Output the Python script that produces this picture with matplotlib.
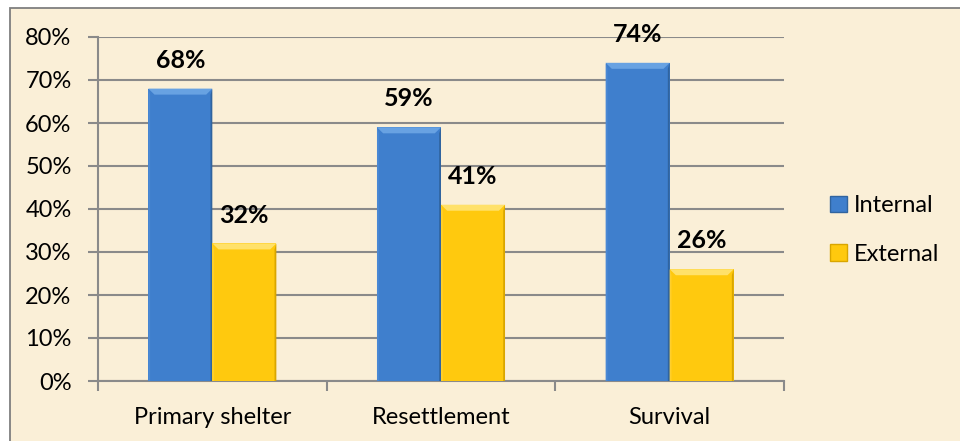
import matplotlib
matplotlib.use("Agg")
import matplotlib.pyplot as plt
from matplotlib.patches import Polygon, Rectangle, Patch
from matplotlib.ticker import FuncFormatter

categories = ["Primary shelter", "Resettlement", "Survival"]
internal = [0.68, 0.59, 0.74]
external = [0.32, 0.41, 0.26]
series_names = ["Internal", "External"]

PAPER = "#faefd7"
GRID = "#8a8a8a"
# main, light top, light left, dark right/bottom
BLUE = ("#3f7fcd", "#68a2e2", "#4a88d4", "#30649f")
GOLD = ("#ffc90e", "#ffe16a", "#ffcf2c", "#d9a600")

plt.rcParams["font.family"] = ["Lato", "DejaVu Sans"]

fig = plt.figure(figsize=(9.6, 4.41), dpi=100, facecolor="white")
fig.patches.append(Rectangle((10 / 960, -0.1), 1.2, 1.1 - 8 / 441,
                             transform=fig.transFigure, facecolor=PAPER,
                             edgecolor="#7f7f7f", linewidth=1.3, zorder=-5))

ax = fig.add_axes([98 / 960, 1 - 381 / 441, (784 - 98) / 960, (381 - 37) / 441])
ax.set_facecolor("none")
ax.set_xlim(0, 3)
ax.set_ylim(0, 0.8)

bar_w = 0.28
bx, by = 0.027, 0.014
side = 0.008


def bevel_bar(x0, h, colors):
    main, top, left, dark = colors
    x1 = x0 + bar_w
    ax.add_patch(Rectangle((x0, 0), bar_w, h, facecolor=main, edgecolor="none", zorder=3))
    pieces = [
        ([(x0, h), (x1, h), (x1 - bx, h - by), (x0 + bx, h - by)], top),
        ([(x0, 0), (x0, h), (x0 + side, h - by), (x0 + side, 0)], left),
        ([(x1, 0), (x1, h), (x1 - side, h - by), (x1 - side, 0)], dark),
    ]
    for pts, c in pieces:
        ax.add_patch(Polygon(pts, closed=True, facecolor=c, edgecolor="none", zorder=3))
    ax.annotate(f"{h * 100:.0f}%", (x0 + bar_w / 2, h), xytext=(0, 15),
                textcoords="offset points", ha="center", va="baseline",
                fontsize=18, fontweight="bold", color="black", zorder=4)


for i, (a, b) in enumerate(zip(internal, external)):
    centre = i + 0.5
    bevel_bar(centre - bar_w, a, BLUE)
    bevel_bar(centre, b, GOLD)

# axes styling
ax.set_yticks([i / 10 for i in range(9)])
ax.yaxis.set_major_formatter(FuncFormatter(lambda v, _: f"{v * 100:.0f}%"))
ax.grid(axis="y", color=GRID, linewidth=1.5, zorder=1)
ax.set_axisbelow(True)
for s in ("top", "right"):
    ax.spines[s].set_visible(False)
for s in ("left", "bottom"):
    ax.spines[s].set_color(GRID)
    ax.spines[s].set_linewidth(1.5)
ax.set_xticks([0, 1, 2, 3])
ax.set_xticklabels([])
ax.set_xticks([0.5, 1.5, 2.5], minor=True)
ax.set_xticklabels(categories, minor=True)
ax.tick_params(axis="x", which="minor", length=0, pad=19, labelsize=17)
ax.tick_params(axis="x", which="major", length=7, width=1.5, color=GRID)
ax.tick_params(axis="y", length=7, width=1.5, color=GRID, labelsize=17, pad=12)

handles = [Patch(facecolor=BLUE[0], edgecolor=BLUE[3]),
           Patch(facecolor=GOLD[0], edgecolor=GOLD[3])]
fig.legend(handles, series_names, loc="center left", bbox_to_anchor=(809 / 960, 1 - 230 / 441),
           frameon=False, fontsize=17, handlelength=0.7, handleheight=0.7,
           handletextpad=0.3, labelspacing=1.15)

fig.savefig("out.png", dpi=100, facecolor=fig.get_facecolor())
